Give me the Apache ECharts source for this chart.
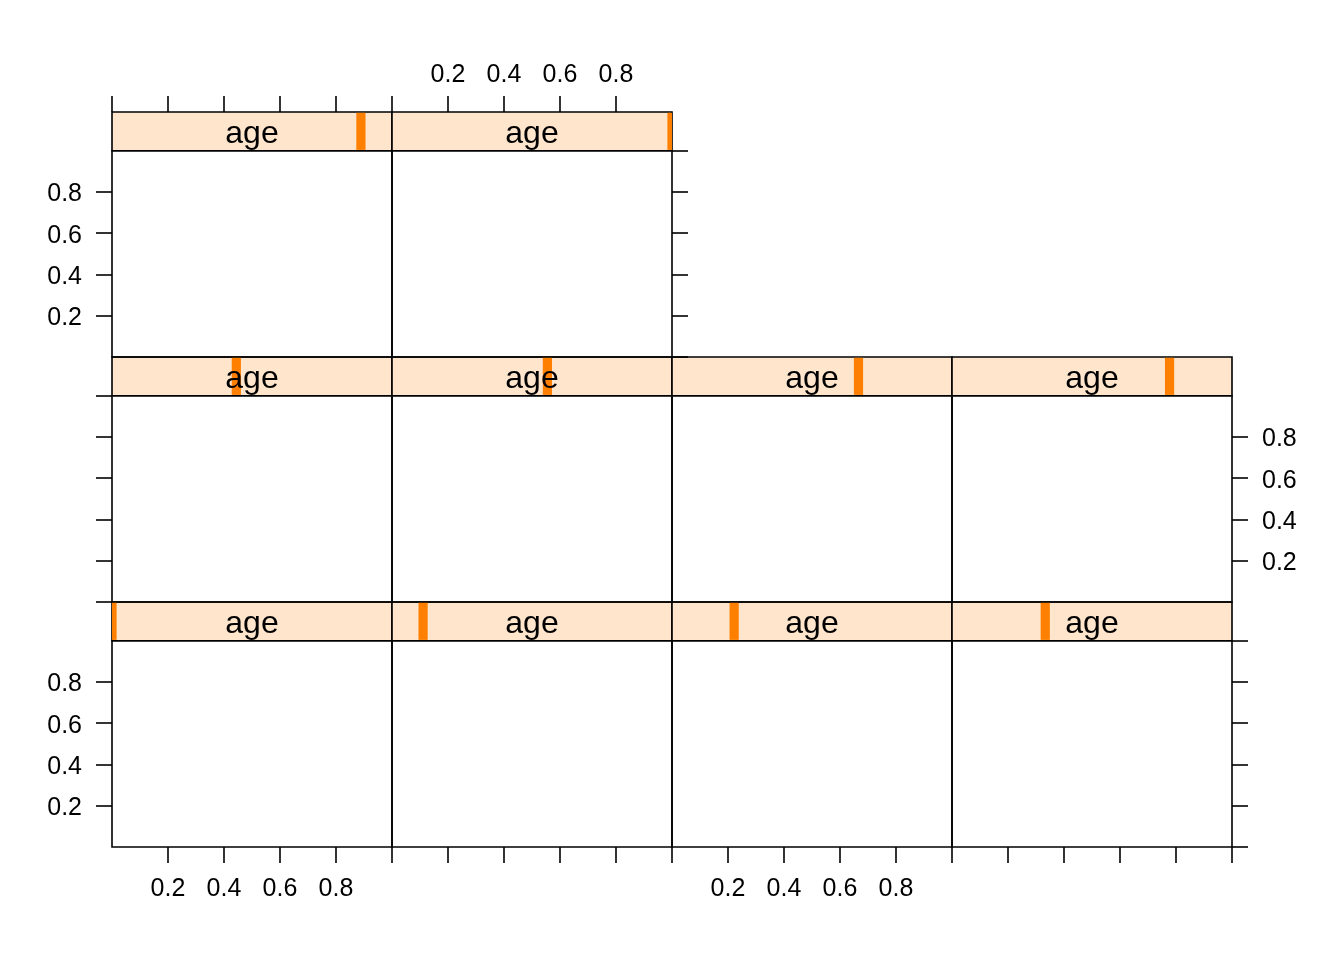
<!DOCTYPE html>
<html>
<head>
<meta charset="utf-8">
<script src="https://cdn.jsdelivr.net/npm/echarts@6/dist/echarts.min.js"></script>
<style>
html,body{margin:0;padding:0;background:#fff;}
#chart{width:1344px;height:960px;}
</style>
</head>
<body>
<div id="chart"></div>
<script>
// ---- data ----
// panels in lattice order: bottom row left->right, middle row, top row
const stripName = 'age';
const agePositions = [0.0, 0.111, 0.222, 0.333, 0.444, 0.555, 0.666, 0.777, 0.889, 1.0];
const xTickValues = [0, 0.2, 0.4, 0.6, 0.8, 1.0];
const yTickValues = [0, 0.2, 0.4, 0.6, 0.8, 1.0];
const xRange = [0, 1];
const yRange = [0, 1];

// ---- layout ----
const colLeft = [112, 392, 672, 952];
const colW = 280;
const rowTop = [602, 357, 112]; // bottom, middle, top
const stripH = 38.7;
const panelH = 206.3;
const nCols = [4, 4, 2];
const LW = 1.6;
const tickFont = 25;
const stripFont = 32;
const FONT = '"Liberation Sans", Arial, Helvetica, sans-serif';

const grids = [], xAxes = [], yAxes = [], series = [];

function fmt(v){ return (Math.round(v*10)/10).toString(); }
function fmtY(v){ return '{t|' + (Math.round(v*10)/10).toString() + '}'; }
const yRich = {t: {padding: [5, 0, 0, 0], fontSize: tickFont, fontFamily: FONT, color: '#000'}};
const tickStyle = {show: true, inside: false, length: 16, lineStyle: {color: '#000', width: LW}};

let panelIdx = 0;
for (let r = 0; r < 3; r++) {
  for (let c = 0; c < nCols[r]; c++) {
    const left = colLeft[c];
    const top = rowTop[r];
    const isLastCol = (c === nCols[r] - 1);
    // ---- panel grid ----
    const gi = grids.length;
    grids.push({left: left, top: top + stripH, width: colW, height: panelH,
      show: true, borderColor: '#000', borderWidth: LW, backgroundColor: 'transparent'});
    const showBottom = (r === 0);
    const bottomLabels = (r === 0 && (c % 2 === 0));
    xAxes.push({gridIndex: gi, type: 'value', min: xRange[0], max: xRange[1], interval: 0.2,
      position: 'bottom', show: showBottom,
      axisLine: {show: false, onZero: false}, splitLine: {show: false},
      axisTick: tickStyle,
      axisLabel: {show: bottomLabels, showMinLabel: false, showMaxLabel: false, margin: 30,
        color: '#000', fontSize: tickFont, fontFamily: FONT, formatter: fmt}});
    const showLeft = (c === 0);
    const leftLabels = (c === 0 && r !== 1);
    yAxes.push({gridIndex: gi, type: 'value', min: yRange[0], max: yRange[1], interval: 0.2,
      position: 'left', show: showLeft,
      axisLine: {show: false, onZero: false}, splitLine: {show: false},
      axisTick: tickStyle,
      axisLabel: {show: leftLabels, showMinLabel: false, showMaxLabel: false, margin: 30,
        rich: yRich,
        color: '#000', fontSize: tickFont, fontFamily: FONT, formatter: fmtY}});
    const rightLabels = (isLastCol && r === 1);
    yAxes.push({gridIndex: gi, type: 'value', min: yRange[0], max: yRange[1], interval: 0.2,
      position: 'right', show: isLastCol,
      axisLine: {show: false, onZero: false}, splitLine: {show: false},
      axisTick: tickStyle,
      axisLabel: {show: rightLabels, showMinLabel: false, showMaxLabel: false, margin: 30,
        rich: yRich,
        color: '#000', fontSize: tickFont, fontFamily: FONT, formatter: fmtY}});
    // empty panel series (keeps axes alive)
    series.push({type: 'scatter', xAxisIndex: xAxes.length - 1, yAxisIndex: yAxes.length - 2, data: [], silent: true});

    // ---- strip grid ----
    const si = grids.length;
    grids.push({left: left, top: top, width: colW, height: stripH,
      show: true, borderColor: '#000', borderWidth: LW, backgroundColor: '#FFE5CC'});
    const showTop = (r === 2);
    const topLabels = (r === 2 && c === 1);
    xAxes.push({gridIndex: si, type: 'value', min: xRange[0], max: xRange[1], interval: 0.2,
      position: 'top', show: showTop,
      axisLine: {show: false, onZero: false}, splitLine: {show: false},
      axisTick: tickStyle,
      axisLabel: {show: topLabels, showMinLabel: false, showMaxLabel: false, margin: 24,
        color: '#000', fontSize: tickFont, fontFamily: FONT, formatter: fmt}});
    yAxes.push({gridIndex: si, type: 'value', min: 0, max: 1, show: false,
      axisLine: {onZero: false}});
    const pos = agePositions[panelIdx];
    series.push({
      type: 'custom', xAxisIndex: xAxes.length - 1, yAxisIndex: yAxes.length - 1,
      silent: true, z: 5,
      data: [[pos, 0.5]],
      renderItem: function (params, api) {
        const cs = params.coordSys;
        const p = api.coord([api.value(0), api.value(1)]);
        const half = 4.6;
        const x0 = Math.max(p[0] - half, cs.x);
        const x1 = Math.min(p[0] + half, cs.x + cs.width);
        return {type: 'group', children: [
          {type: 'rect', shape: {x: x0, y: cs.y + LW/2, width: Math.max(0, x1 - x0), height: cs.height - LW},
            style: {fill: '#FF7F00'}},
          {type: 'text', x: cs.x + cs.width/2, y: cs.y + cs.height/2 + 3,
            style: {text: stripName, fill: '#000', font: stripFont + 'px ' + FONT,
              textAlign: 'center', textVerticalAlign: 'middle'}}
        ]};
      }
    });
    panelIdx++;
  }
}

const chart = echarts.init(document.getElementById('chart'), null, {renderer: 'canvas'});
chart.setOption({
  backgroundColor: '#fff',
  animation: false,
  grid: grids,
  xAxis: xAxes,
  yAxis: yAxes,
  series: series
});
</script>
</body>
</html>
